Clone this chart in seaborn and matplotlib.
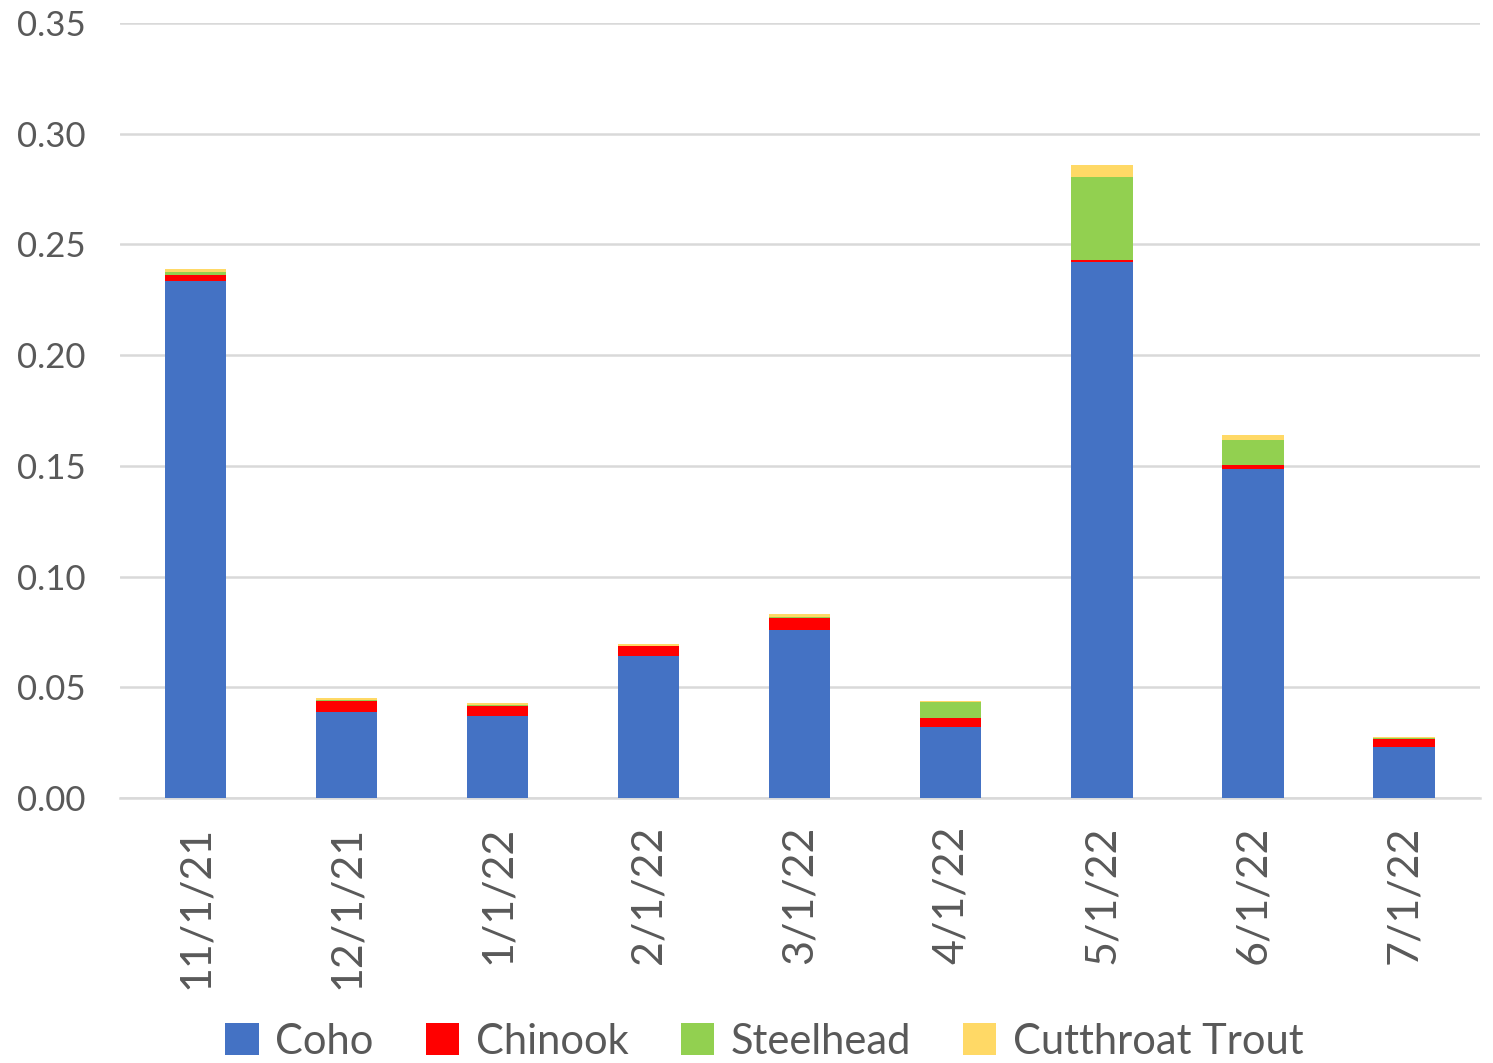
import matplotlib
matplotlib.use("Agg")
import matplotlib.pyplot as plt
from matplotlib.patches import Patch
import seaborn as sns
import pandas as pd
import numpy as np

# values
dates = ["11/1/21", "12/1/21", "1/1/22", "2/1/22", "3/1/22", "4/1/22", "5/1/22", "6/1/22", "7/1/22"]
coho = [0.2334, 0.0387, 0.0372, 0.0643, 0.0759, 0.0322, 0.2421, 0.1486, 0.0232]
chinook = [0.0026, 0.0052, 0.0045, 0.0044, 0.0053, 0.0038, 0.0009, 0.0019, 0.0036]
steelhead = [0.0015, 0.0003, 0.0002, 0.0001, 0.0004, 0.0072, 0.0373, 0.0110, 0.0001]
cutthroat = [0.0014, 0.0011, 0.0011, 0.0006, 0.0013, 0.0006, 0.0054, 0.0026, 0.0005]

species = ["Coho", "Chinook", "Steelhead", "Cutthroat Trout"]
colors = ["#4472C4", "#FF0000", "#92D050", "#FFD966"]

df = pd.DataFrame({"Date": dates, "Coho": coho, "Chinook": chinook,
                   "Steelhead": steelhead, "Cutthroat Trout": cutthroat})

# cumulative heights so bars can be layered from the top down
cum = df[species].cumsum(axis=1)
cum["Date"] = df["Date"]

sns.set_style("white")
plt.rcParams["font.family"] = ["Lato", "DejaVu Sans"]
text_col = "#595959"

fig = plt.figure(figsize=(14.93, 10.63), dpi=100)
ax = fig.add_axes([0.0804, 0.2493, 0.9106, 0.7291])

for sp, col in reversed(list(zip(species, colors))):
    sns.barplot(data=cum, x="Date", y=sp, order=dates, color=col, width=0.405,
                saturation=1, edgecolor="none", linewidth=0, ax=ax, zorder=3)

ax.set_ylim(0, 0.35)
ax.set_xlim(-0.5, len(dates) - 0.5)
ax.set_yticks(np.arange(0, 0.351, 0.05))
ax.set_yticklabels([f"{v:.2f}" for v in np.arange(0, 0.351, 0.05)])
ax.yaxis.grid(True, color="#D9D9D9", linewidth=1.8, zorder=0)
ax.set_axisbelow(True)
ax.set_xlabel("")
ax.set_ylabel("")

for s in ["top", "right", "left"]:
    ax.spines[s].set_visible(False)
ax.spines["bottom"].set_color("#D9D9D9")
ax.spines["bottom"].set_linewidth(1.8)

ax.tick_params(axis="y", length=0, pad=25, labelsize=25, labelcolor=text_col)
ax.tick_params(axis="x", which="major", length=0, pad=20, labelsize=31,
               labelcolor=text_col, labelrotation=90)
ax.set_xticks(np.arange(-0.5, len(dates)), minor=True)
ax.tick_params(axis="x", which="minor", length=10, width=1.8, color="#D9D9D9")

handles = [Patch(facecolor=c, edgecolor="none") for c in colors]
fig.legend(handles, species, loc="center", bbox_to_anchor=(0.512, 0.02), ncol=4,
           frameon=False, fontsize=30, labelcolor=text_col, handlelength=0.8,
           handleheight=0.8, handletextpad=0.4, columnspacing=1.25)

fig.savefig("out.png", dpi=100)
